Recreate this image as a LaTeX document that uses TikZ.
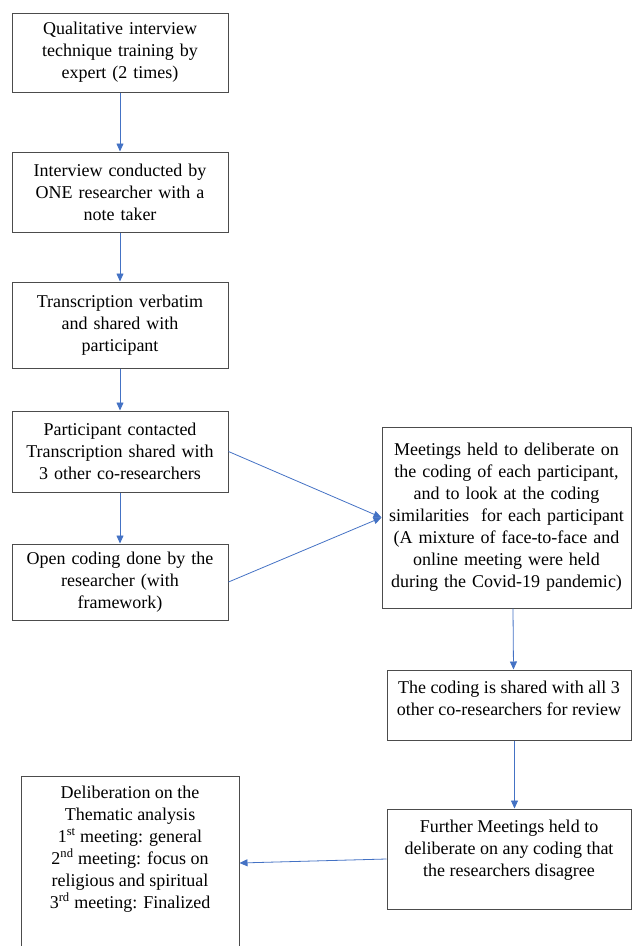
\documentclass[tikz,border=0pt]{standalone}
\usepackage{fontspec}
\setmainfont{Liberation Serif}
\usetikzlibrary{arrows.meta}

% text hung from the top of a box: height, width, lines
\newcommand{\hungtext}[4]{\parbox[c][#1][t]{#2}{\centering\rule{0pt}{#3}#4}}

\begin{document}
\begin{tikzpicture}[x=1pt,y=-1pt,
  stage/.style={draw=black!70, line width=1pt, inner sep=0pt, align=center,
    font=\fontsize{18}{22}\selectfont},
  flow/.style={draw={rgb,255:red,68;green,114;blue,196}, line width=0.8pt,
    -{Triangle[width=7pt,length=8pt]}}]
\useasboundingbox (0,0) rectangle (632,946);
\clip (0,0) rectangle (632,946);

% left column
\node[stage, text width=212pt, minimum width=216pt, minimum height=79pt] (train) at (120,52.5)
  {Qualitative interview\\ technique training by\\ expert (2 times)};
\node[stage, text width=212pt, minimum width=216pt, minimum height=80pt] (interview) at (120,192)
  {Interview conducted by\\ ONE researcher with a\\ note taker};
\node[stage, text width=212pt, minimum width=216pt, minimum height=86pt] (transcribe) at (120,325)
  {Transcription verbatim\\ and shared with\\ participant};
\node[stage, text width=212pt, minimum width=216pt, minimum height=81pt] (contact) at (120,451.5)
  {Participant contacted\\ Transcription shared with\\ 3 other co-researchers};
\node[stage, text width=212pt, minimum width=216pt, minimum height=76pt] (opencode) at (120,582)
  {Open coding done by the\\ researcher (with\\ framework)};

% right column
\node[stage, text width=246pt, minimum width=249pt, minimum height=181pt] (meet) at (506.5,517.5)
  {Meetings held to deliberate on\\ the coding of each participant,\\ and to look at the coding\\
   similarities\ \ for each participant\\ (A mixture of face-to-face and\\ online meeting were held\\
   during the Covid-19 pandemic)};
\node[stage] (share) at (509,705)
  {\hungtext{70pt}{244pt}{23pt}{The coding is shared with all 3\\ other co-researchers for review}};
\node[stage] (further) at (509,859)
  {\hungtext{100pt}{244pt}{23pt}{Further Meetings held to\\ deliberate on any coding that\\ the researchers disagree}};

% bottom left
\node[stage] (thematic) at (130,863)
  {\hungtext{174pt}{218pt}{22pt}{Deliberation on the\\ Thematic analysis\\ 1\textsuperscript{st} meeting: general\\
   2\textsuperscript{nd} meeting: focus on\\ religious and spiritual\\ 3\textsuperscript{rd} meeting: Finalized}};

% connectors
\draw[flow] (train) -- (interview);
\draw[flow] (interview) -- (transcribe);
\draw[flow] (transcribe) -- (contact);
\draw[flow] (contact) -- (opencode);
\draw[flow] (contact.east) -- (meet.west);
\draw[flow] (opencode.east) -- (meet.west);
\draw[flow] ([xshift=6.5pt]meet.south) -- ([xshift=4.5pt]share.north);
\draw[flow] ([xshift=5.5pt]share.south) -- ([xshift=5.5pt]further.north);
\draw[flow] (further.west) -- (thematic.east);
\end{tikzpicture}
\end{document}
